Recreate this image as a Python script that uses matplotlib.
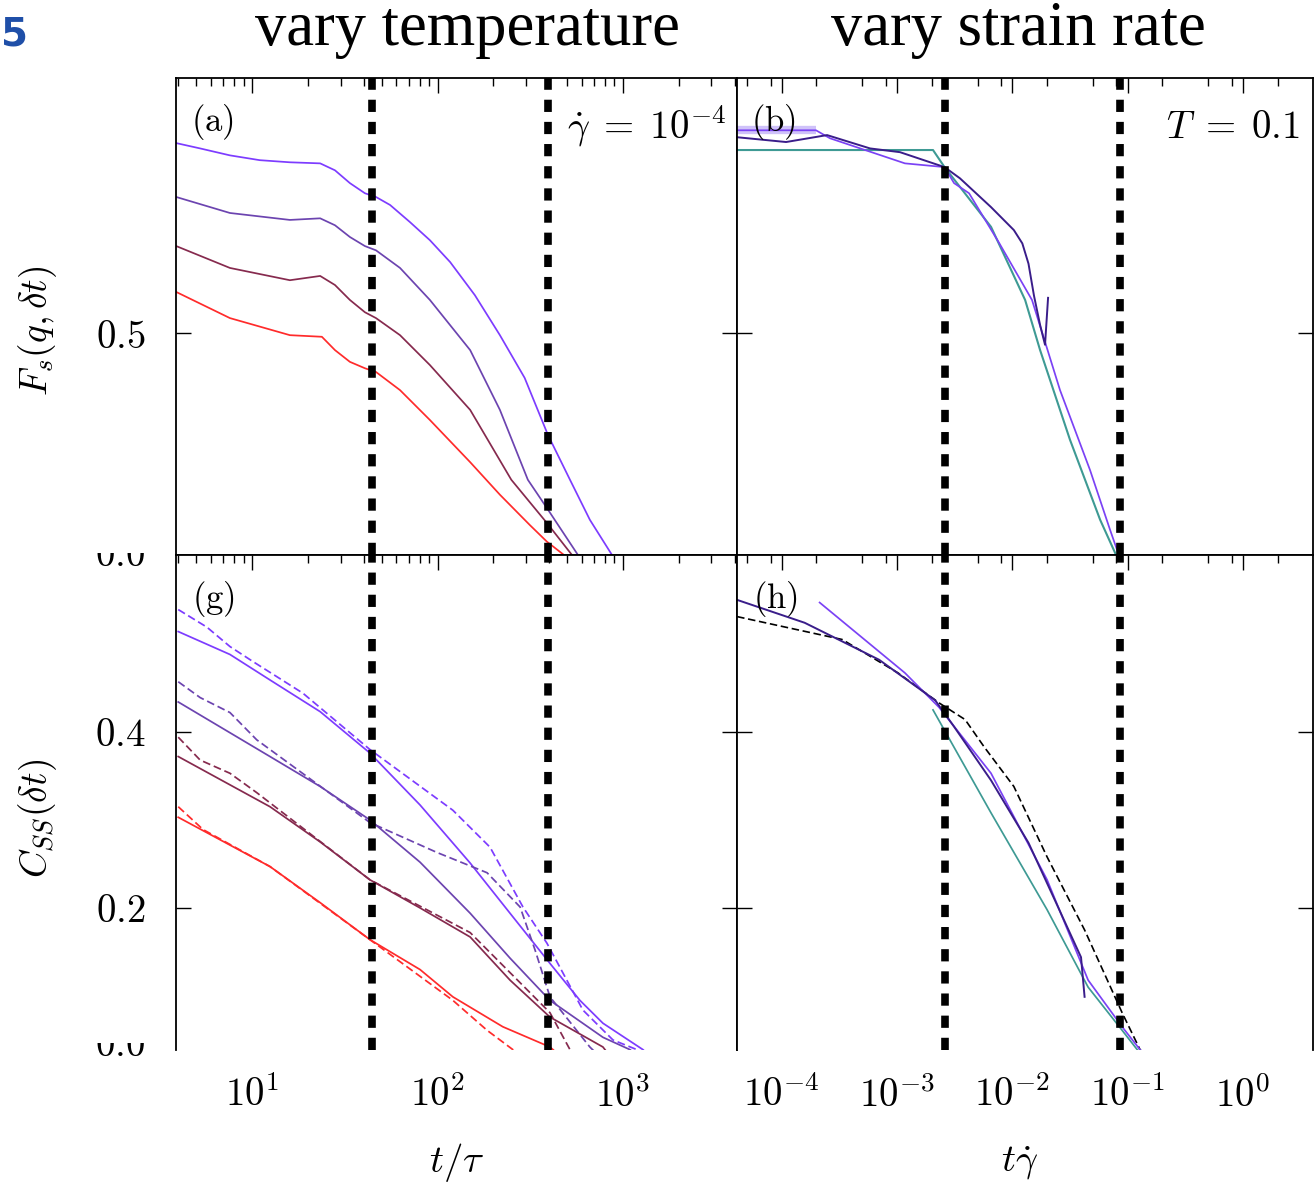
import numpy as np
import matplotlib.pyplot as plt
from matplotlib.ticker import FixedLocator, LogLocator, FuncFormatter, NullFormatter
from matplotlib.transforms import Bbox

plt.rcParams['mathtext.fontset'] = 'cm'
plt.rcParams['font.family'] = 'DejaVu Serif'

# ---- data ----
# panel (a): F_s vs t/tau, four temperatures (blue -> red)
a_blue_x = [3.9, 5.25, 7.6, 11.0, 16.0, 23.3, 28.0, 33.7, 40.6, 46.6, 55.5, 71.0, 91.0, 117, 159, 217, 295, 394, 518, 663, 873, 1000]
a_blue_y = [0.856, 0.846, 0.833, 0.824, 0.820, 0.818, 0.805, 0.781, 0.762, 0.755, 0.740, 0.708, 0.674, 0.633, 0.571, 0.496, 0.416, 0.309, 0.225, 0.150, 0.084, 0.056]
a_purp_x = [3.9, 7.6, 16.0, 23.3, 28.0, 33.7, 40.6, 46.6, 62.8, 91.0, 150, 217, 307, 389, 572, 700]
a_purp_y = [0.755, 0.725, 0.712, 0.715, 0.702, 0.680, 0.663, 0.655, 0.622, 0.562, 0.468, 0.356, 0.225, 0.172, 0.084, 0.05]
a_maro_x = [3.9, 7.6, 16.0, 23.3, 28.0, 33.7, 40.6, 46.6, 62.8, 91.0, 150, 250, 389, 531, 650]
a_maro_y = [0.663, 0.622, 0.599, 0.607, 0.590, 0.562, 0.539, 0.528, 0.496, 0.440, 0.356, 0.225, 0.144, 0.084, 0.05]
a_red_x = [3.9, 7.6, 16.0, 23.8, 28.0, 33.7, 40.6, 46.6, 62.8, 91.0, 150, 217, 315, 389, 481, 560]
a_red_y = [0.577, 0.528, 0.496, 0.493, 0.468, 0.446, 0.434, 0.427, 0.393, 0.337, 0.258, 0.197, 0.140, 0.109, 0.084, 0.06]

# panel (b): F_s vs t*gammadot, T = 0.1
b_band_x = [4.09e-5, 1.98e-4]
b_band_y = [0.880, 0.880]
b_viol_x = [4.09e-5, 1.98e-4, 2.62e-4, 1.17e-3, 2.58e-3, 3.12e-3, 4.21e-3, 7.67e-3, 1.48e-2, 2.59e-2, 4.72e-2, 7.04e-2, 8.26e-2, 9.0e-2]
b_viol_y = [0.880, 0.880, 0.865, 0.818, 0.811, 0.781, 0.762, 0.669, 0.562, 0.393, 0.243, 0.131, 0.088, 0.06]
b_dark_x = [4.09e-5, 1.09e-4, 2.47e-4, 5.83e-4, 1.06e-3, 2.58e-3, 3.51e-3, 6.53e-3, 1.03e-2, 1.22e-2, 1.38e-2, 1.54e-2, 1.74e-2, 1.92e-2, 2.04e-2]
b_dark_y = [0.867, 0.858, 0.871, 0.846, 0.839, 0.811, 0.790, 0.736, 0.693, 0.668, 0.630, 0.570, 0.515, 0.478, 0.566]
b_teal_x = [4.09e-5, 2.05e-3, 2.58e-3, 6.53e-3, 1.29e-2, 1.74e-2, 3.16e-2, 5.77e-2, 7.78e-2, 8.5e-2]
b_teal_y = [0.843, 0.843, 0.811, 0.699, 0.562, 0.468, 0.300, 0.150, 0.088, 0.06]

# panel (g): C_SS vs t/tau, solid and dashed per temperature
g_blue_x = [4.0, 7.6, 12.5, 23.3, 43.2, 80.5, 150, 246, 404, 586, 780, 1282, 1500]
g_blue_y = [0.514, 0.488, 0.459, 0.423, 0.376, 0.317, 0.251, 0.194, 0.137, 0.095, 0.069, 0.039, 0.025]
g_blue_dx = [4.0, 5.71, 7.6, 10.1, 18.8, 43.2, 121, 192, 289, 389, 608, 883, 1189, 1500]
g_blue_dy = [0.539, 0.519, 0.497, 0.480, 0.444, 0.380, 0.311, 0.269, 0.201, 0.160, 0.084, 0.050, 0.039, 0.025]
g_purp_x = [4.0, 12.5, 23.3, 43.2, 80.5, 150, 246, 404, 780, 1091, 1300]
g_purp_y = [0.434, 0.372, 0.338, 0.300, 0.252, 0.194, 0.143, 0.095, 0.053, 0.039, 0.025]
g_purp_dx = [4.0, 5.25, 7.6, 10.6, 43.2, 99.4, 185, 279, 336, 404, 663, 800]
g_purp_dy = [0.457, 0.439, 0.422, 0.391, 0.297, 0.263, 0.240, 0.201, 0.152, 0.099, 0.042, 0.025]
g_maro_x = [4.0, 12.5, 23.3, 43.2, 80.5, 150, 246, 404, 780, 900]
g_maro_y = [0.372, 0.315, 0.275, 0.232, 0.200, 0.167, 0.118, 0.076, 0.042, 0.025]
g_maro_dx = [4.0, 5.25, 7.6, 10.6, 43.2, 150, 404, 518, 600]
g_maro_dy = [0.394, 0.368, 0.353, 0.331, 0.232, 0.172, 0.081, 0.039, 0.025]
g_red_x = [4.0, 12.5, 23.3, 43.2, 80.5, 121, 225, 404, 500]
g_red_y = [0.303, 0.247, 0.206, 0.164, 0.130, 0.099, 0.065, 0.042, 0.025]
g_red_dx = [4.0, 5.45, 12.5, 43.2, 121, 185, 255, 300]
g_red_dy = [0.315, 0.289, 0.247, 0.164, 0.095, 0.061, 0.039, 0.025]

# panel (h): C_SS vs t*gammadot
h_dark_x = [4.1e-5, 1.58e-4, 6.98e-4, 2.14e-3, 3.12e-3, 6.53e-3, 1.38e-2, 2.49e-2, 3.94e-2, 4.23e-2]
h_dark_y = [0.550, 0.524, 0.482, 0.436, 0.406, 0.345, 0.274, 0.201, 0.144, 0.099]
h_viol_x = [2.13e-4, 1.17e-3, 2.31e-3, 6.53e-3, 2.00e-2, 4.54e-2, 8.95e-2, 0.128, 0.156]
h_viol_y = [0.547, 0.467, 0.428, 0.353, 0.232, 0.118, 0.065, 0.039, 0.027]
h_teal_x = [2.05e-3, 6.53e-3, 2.00e-2, 4.54e-2, 8.95e-2, 0.121, 0.15]
h_teal_y = [0.425, 0.308, 0.198, 0.110, 0.061, 0.039, 0.027]
h_dash_x = [4.1e-5, 3.34e-4, 1.02e-3, 2.31e-3, 3.89e-3, 5.69e-3, 1.03e-2, 2.00e-2, 4.23e-2, 8.95e-2, 0.128, 0.16]
h_dash_y = [0.531, 0.505, 0.467, 0.433, 0.414, 0.383, 0.338, 0.258, 0.175, 0.081, 0.039, 0.025]

t_cuts = [44.3, 394]
rate_cuts = [2.6e-3, 8.6e-2]

left_xlim = (3.89, 4120)
right_xlim = (4.09e-5, 4.05)
top_ylim = (0.084, 0.978)
bot_ylim = (0.0386, 0.601)

c_blue = '#7d3cff'
c_purp = '#6c44b0'
c_maro = '#862a4e'
c_red = '#ff2b2b'
c_viol = '#7b42f5'
c_dark = '#3a1d8a'
c_teal = '#3e9a94'

W, H = 1315, 1187
fig = plt.figure(figsize=(W / 100, H / 100), dpi=100)


def px_box(l, t, r, b):
    return [l / W, 1 - b / H, (r - l) / W, (b - t) / H]


ax_a = fig.add_axes(px_box(176, 78, 737, 555))
ax_b = fig.add_axes(px_box(737, 78, 1313, 555))
ax_g = fig.add_axes(px_box(176, 555, 737, 1050))
ax_h = fig.add_axes(px_box(737, 555, 1313, 1050))

lw = 1.25
dash = (0, (4.5, 2.2))

ax_a.plot(a_blue_x, a_blue_y, color=c_blue, lw=lw)
ax_a.plot(a_purp_x, a_purp_y, color=c_purp, lw=lw)
ax_a.plot(a_maro_x, a_maro_y, color=c_maro, lw=lw)
ax_a.plot(a_red_x, a_red_y, color=c_red, lw=lw)

ax_b.plot(b_band_x, b_band_y, color='#c4b3f8', lw=6, alpha=0.8, solid_capstyle='butt')
ax_b.plot(b_teal_x, b_teal_y, color=c_teal, lw=1.5)
ax_b.plot(b_viol_x, b_viol_y, color=c_viol, lw=lw)
ax_b.plot(b_dark_x, b_dark_y, color=c_dark, lw=1.4)

for xs, ys, xd, yd, c in [(g_blue_x, g_blue_y, g_blue_dx, g_blue_dy, c_blue),
                          (g_purp_x, g_purp_y, g_purp_dx, g_purp_dy, c_purp),
                          (g_maro_x, g_maro_y, g_maro_dx, g_maro_dy, c_maro),
                          (g_red_x, g_red_y, g_red_dx, g_red_dy, c_red)]:
    ax_g.plot(xs, ys, color=c, lw=lw)
    ax_g.plot(xd, yd, color=c, lw=lw, linestyle=dash)

ax_h.plot(h_dash_x, h_dash_y, color='black', lw=1.2, linestyle=dash)
ax_h.plot(h_teal_x, h_teal_y, color=c_teal, lw=lw)
ax_h.plot(h_viol_x, h_viol_y, color=c_viol, lw=lw)
ax_h.plot(h_dark_x, h_dark_y, color=c_dark, lw=1.4)

cut_style = dict(color='black', lw=5.5, linestyle=(0, (1.6, 1.3)), zorder=5)
for ax in (ax_a, ax_g):
    for xv in t_cuts:
        ax.axvline(xv, **cut_style)
for ax in (ax_b, ax_h):
    for xv in rate_cuts:
        ax.axvline(xv, **cut_style)

pow_fmt = FuncFormatter(lambda v, p: r'$10^{%d}$' % int(round(np.log10(v))))

for ax, xl, yl in [(ax_a, left_xlim, top_ylim), (ax_b, right_xlim, top_ylim),
                   (ax_g, left_xlim, bot_ylim), (ax_h, right_xlim, bot_ylim)]:
    ax.set_xscale('log')
    ax.set_xlim(*xl)
    ax.set_ylim(*yl)
    for s in ax.spines.values():
        s.set_linewidth(1.3)
    ax.tick_params(which='both', direction='in', top=True, right=True, width=1.0)
    ax.tick_params(which='major', length=11)
    ax.tick_params(which='minor', length=5.5)
    ax.tick_params(axis='y', which='minor', left=False, right=False)

for ax in (ax_a, ax_g):
    ax.xaxis.set_major_locator(LogLocator(base=10, numticks=20))
    ax.xaxis.set_minor_locator(LogLocator(base=10, subs=np.arange(2, 10), numticks=20))
for ax in (ax_b, ax_h):
    ax.xaxis.set_major_locator(LogLocator(base=10, numticks=20))
    ax.xaxis.set_minor_locator(LogLocator(base=10, subs=[2, 5, 8], numticks=20))

for ax in (ax_a, ax_b):
    ax.yaxis.set_major_locator(FixedLocator([0.5]))
    ax.tick_params(axis='x', which='both', bottom=False, labelbottom=False)
for ax in (ax_g, ax_h):
    ax.yaxis.set_major_locator(FixedLocator([0.2, 0.4]))
    ax.spines['bottom'].set_visible(False)
    ax.tick_params(axis='x', which='both', bottom=False, labelbottom=True, pad=19, labelsize=28)
    ax.xaxis.set_major_formatter(pow_fmt)
    ax.xaxis.set_minor_formatter(NullFormatter())

ax_a.yaxis.set_major_formatter(FuncFormatter(lambda v, p: r'$%.1f$' % v))
ax_g.yaxis.set_major_formatter(FuncFormatter(lambda v, p: r'$%.1f$' % v))
ax_a.tick_params(axis='y', pad=22, labelsize=28)
ax_g.tick_params(axis='y', pad=22, labelsize=28)
ax_b.tick_params(axis='y', labelleft=False)
ax_h.tick_params(axis='y', labelleft=False)

# half-hidden 0.0 labels where the panels were cut
for yc, ycut in [(556, 553), (1046, 1043)]:
    t = fig.text(145 / W, 1 - yc / H, r'$0.0$', ha='right', va='center', fontsize=28)
    t.set_clip_box(Bbox.from_extents(0, 0, W, H - ycut))
    t.set_clip_on(True)

fig.text(38 / W, 1 - 331 / H, r'$F_s(q,\delta t)$', rotation=90, ha='center', va='center', fontsize=27)
fig.text(38 / W, 1 - 818 / H, r'$C_{SS}(\delta t)$', rotation=90, ha='center', va='center', fontsize=27)
fig.text(457 / W, 1 - 1163 / H, r'$t/\tau$', ha='center', va='center', fontsize=28)
fig.text(1020 / W, 1 - 1163 / H, r'$t\dot{\gamma}$', ha='center', va='center', fontsize=28)

fig.text(191 / W, 1 - 122 / H, r'$\mathrm{(a)}$', ha='left', va='center', fontsize=25)
fig.text(751 / W, 1 - 122 / H, r'$\mathrm{(b)}$', ha='left', va='center', fontsize=25)
fig.text(192 / W, 1 - 599 / H, r'$\mathrm{(g)}$', ha='left', va='center', fontsize=25)
fig.text(753 / W, 1 - 599 / H, r'$\mathrm{(h)}$', ha='left', va='center', fontsize=25)
fig.text(727 / W, 1 - 126 / H, r'$\dot{\gamma}\;=\;10^{-4}$', ha='right', va='center', fontsize=28)
fig.text(1300 / W, 1 - 128 / H, r'$T\;=\;0.1$', ha='right', va='center', fontsize=28)

fig.text(467 / W, 1 - 30 / H, 'vary temperature', ha='center', va='center',
         fontsize=45, family='Liberation Serif')
fig.text(1018 / W, 1 - 30 / H, 'vary strain rate', ha='center', va='center',
         fontsize=45, family='Liberation Serif')
fig.text(1 / W, 1 - 34 / H, '5', ha='left', va='center', fontsize=28,
         color='#1f4fa8', family='DejaVu Sans', weight='bold')

fig.savefig('out.png', dpi=100)
